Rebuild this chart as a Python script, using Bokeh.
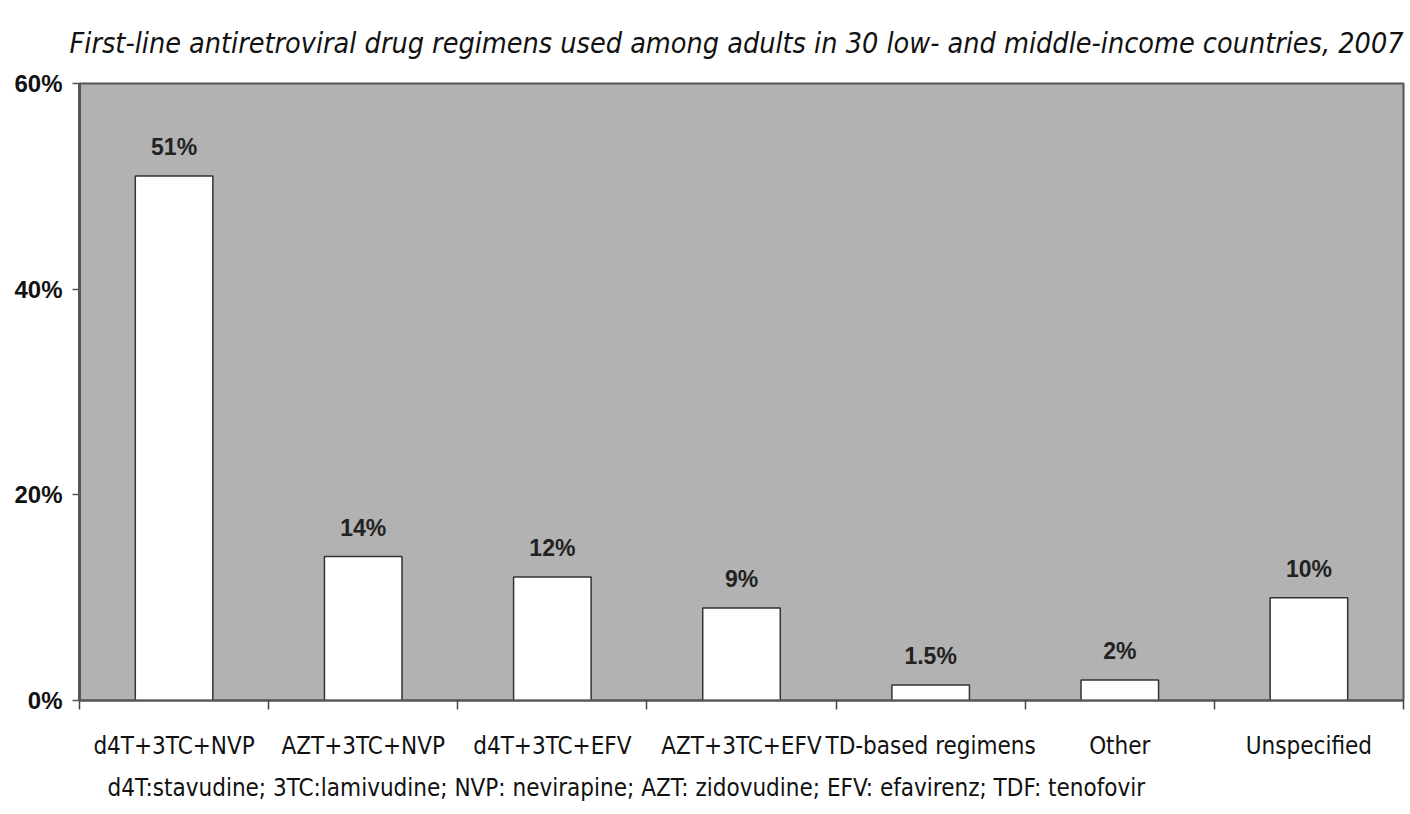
from bokeh.plotting import figure
from bokeh.models import ColumnDataSource, FixedTicker, Title, Range1d
from bokeh.core.properties import value
from bokeh.embed import file_html
from bokeh.resources import INLINE

categories = ["d4T+3TC+NVP", "AZT+3TC+NVP", "d4T+3TC+EFV", "AZT+3TC+EFV",
              "TD-based regimens", "Other", "Unspecified"]
shares = [51, 14, 12, 9, 1.5, 2, 10]
share_labels = ["51%", "14%", "12%", "9%", "1.5%", "2%", "10%"]
y_ticks = [0, 20, 40, 60]
y_tick_labels = ["0%", "20%", "40%", "60%"]
title_text = "First-line antiretroviral drug regimens used among adults in 30 low- and middle-income countries, 2007"
footnote_text = "d4T:stavudine;  3TC:lamivudine;  NVP: nevirapine;  AZT: zidovudine;  EFV: efavirenz;  TDF: tenofovir"

centers = [i + 0.5 for i in range(len(categories))]
src = ColumnDataSource(dict(x=centers, top=shares, label=share_labels))

NARROW = "'DejaVu Sans Condensed', 'Liberation Sans Narrow', 'Noto Sans', sans-serif"

p = figure(width=1408, height=812, output_backend="svg", toolbar_location=None,
           x_range=Range1d(0, len(categories)), y_range=Range1d(0, 60),
           min_border_left=79, min_border_right=5, min_border_top=80, min_border_bottom=112)
p.title = None
p.background_fill_color = "#b2b2b2"
p.border_fill_color = "white"
p.outline_line_color = "#555555"
p.outline_line_width = 2
p.grid.visible = False

p.vbar(x="x", top="top", width=0.41, bottom=0, source=src,
       fill_color="white", line_color="#333333", line_width=1.5)
p.text(x="x", y="top", text="label", source=src, y_offset=-29,
       text_align="center", text_baseline="alphabetic",
       text_font=value("Liberation Sans"), text_font_style="bold",
       text_font_size="23px", text_color="#222222")

# y axis
yax = p.yaxis[0]
yax.ticker = FixedTicker(ticks=y_ticks, minor_ticks=[])
yax.major_label_overrides = {t: l for t, l in zip(y_ticks, y_tick_labels)}
yax.major_label_text_font = "Liberation Sans"
yax.major_label_text_font_style = "bold"
yax.major_label_text_font_size = "24px"
yax.major_label_text_color = "#111111"
yax.axis_line_color = "#555555"
yax.axis_line_width = 3
yax.major_tick_in = 0
yax.major_tick_out = 7
yax.major_tick_line_color = "#555555"
yax.major_tick_line_width = 1.5
yax.major_label_standoff = 10

# x axis: labels at category centers, tick marks at category boundaries
xax = p.xaxis[0]
xax.ticker = FixedTicker(ticks=centers, minor_ticks=list(range(len(categories) + 1)))
xax.major_label_overrides = {c: n for c, n in zip(centers, categories)}
xax.major_tick_line_color = None
xax.minor_tick_in = 0
xax.minor_tick_out = 9
xax.minor_tick_line_color = "#444444"
xax.minor_tick_line_width = 1.5
xax.axis_line_color = "#555555"
xax.axis_line_width = 2
xax.major_label_text_font = NARROW
xax.major_label_text_font_size = "24px"
xax.major_label_text_color = "#111111"
xax.major_label_standoff = 22

p.add_layout(Title(text=title_text, align="right", text_font=NARROW,
                   text_font_style="italic", text_font_size="28.5px",
                   text_color="#111111", standoff=48), "above")
p.add_layout(Title(text=footnote_text, align="left", text_font=NARROW,
                   text_font_style="normal", text_font_size="24px",
                   text_color="#111111", offset=28, standoff=18), "below")

open("out.html", "w").write(file_html(p, INLINE))
